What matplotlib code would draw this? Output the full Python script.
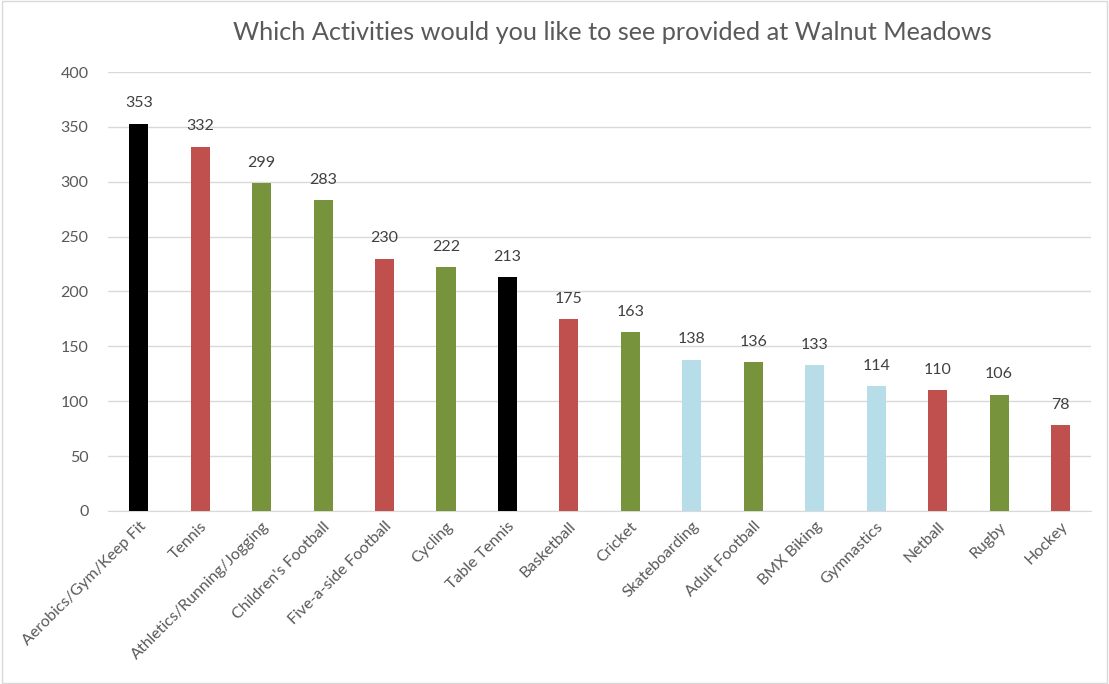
import matplotlib.pyplot as plt
from matplotlib.patches import Rectangle

activities = ["Aerobics/Gym/Keep Fit", "Tennis", "Athletics/Running/Jogging",
              "Children's Football", "Five-a-side Football", "Cycling", "Table Tennis",
              "Basketball", "Cricket", "Skateboarding", "Adult Football", "BMX Biking",
              "Gymnastics", "Netball", "Rugby", "Hockey"]
votes = [353, 332, 299, 283, 230, 222, 213, 175, 163, 138, 136, 133, 114, 110, 106, 78]
groups = ["k", "r", "g", "g", "r", "g", "k", "r", "g", "b", "g", "b", "b", "r", "g", "r"]
yticks = [0, 50, 100, 150, 200, 250, 300, 350, 400]

palette = {"k": "#000000", "r": "#C0504D", "g": "#77933C", "b": "#B7DEE8"}
txt = "#595959"
plt.rcParams['font.family'] = ['Lato', 'DejaVu Sans']

fig = plt.figure(figsize=(11.09, 6.84), dpi=100)
ax = fig.add_axes([0.0974, 0.253, 0.8866, 0.6417])

x = list(range(len(activities)))
ax.bar(x, votes, width=0.31, color=[palette[g] for g in groups], zorder=3)
for xi, v in zip(x, votes):
    ax.text(xi, v + 12, str(v), ha='center', va='bottom', fontsize=11.5, color='#404040')

ax.set_xlim(-0.5, len(activities) - 0.5)
ax.set_ylim(0, 400)
ax.set_yticks(yticks)
ax.set_xticks(x)
ax.set_xticklabels(activities, rotation=45, ha='right', rotation_mode='anchor')
ax.tick_params(axis='both', length=0, colors=txt, labelsize=11.5)
ax.tick_params(axis='y', pad=14)
ax.tick_params(axis='x', pad=6)
ax.grid(axis='y', color='#D9D9D9', linewidth=1, zorder=0)
for s in ['top', 'right', 'left']:
    ax.spines[s].set_visible(False)
ax.spines['bottom'].set_color('#D9D9D9')

fig.text(0.552, 0.952, "Which Activities would you like to see provided at Walnut Meadows",
         ha='center', va='center', fontsize=18.2, color=txt)
fig.patches.append(Rectangle((0.002, 0.002), 0.996, 0.996, transform=fig.transFigure,
                             fill=False, edgecolor='#D9D9D9', linewidth=1))

fig.savefig("out.png", dpi=100)
